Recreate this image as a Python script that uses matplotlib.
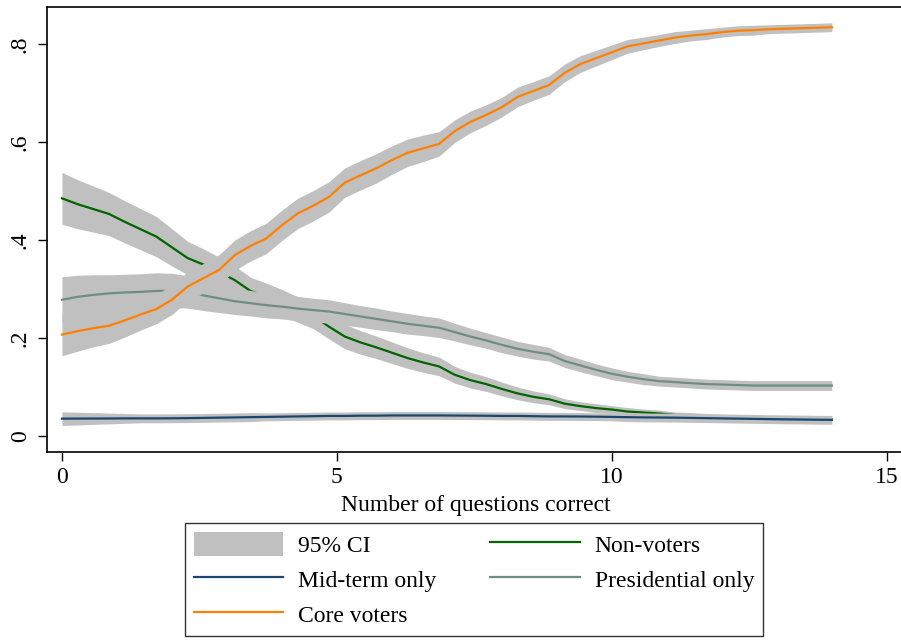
import numpy as np
import matplotlib.pyplot as plt
from matplotlib.patches import Patch
from matplotlib.lines import Line2D

plt.rcParams['font.family'] = ['Liberation Serif', 'DejaVu Serif']

# Number of questions correct (evaluation grid)
x = np.linspace(0, 14, 50)

# Predicted probabilities and 95% CI half-widths
core = [0.207, 0.214, 0.220, 0.225, 0.236, 0.248, 0.259, 0.278, 0.305, 0.322,
        0.339, 0.369, 0.388, 0.403, 0.430, 0.454, 0.470, 0.488, 0.517, 0.532,
        0.546, 0.563, 0.578, 0.587, 0.596, 0.622, 0.641, 0.655, 0.671, 0.692,
        0.704, 0.716, 0.741, 0.759, 0.771, 0.783, 0.795, 0.801, 0.807, 0.813,
        0.817, 0.820, 0.824, 0.827, 0.828, 0.830, 0.831, 0.832, 0.833, 0.834]
core_ci = [0.043, 0.041, 0.038, 0.036, 0.034, 0.032, 0.030, 0.030, 0.030, 0.030,
           0.031, 0.031, 0.031, 0.031, 0.031, 0.031, 0.031, 0.031, 0.030, 0.030,
           0.030, 0.029, 0.028, 0.027, 0.025, 0.023, 0.022, 0.021, 0.020, 0.020,
           0.019, 0.019, 0.018, 0.017, 0.016, 0.015, 0.014, 0.013, 0.012, 0.012,
           0.011, 0.011, 0.010, 0.010, 0.010, 0.009, 0.009, 0.009, 0.009, 0.009]

nonvote = [0.485, 0.473, 0.463, 0.453, 0.437, 0.422, 0.407, 0.385, 0.363, 0.350,
           0.335, 0.318, 0.296, 0.285, 0.272, 0.258, 0.245, 0.223, 0.203, 0.191,
           0.181, 0.170, 0.159, 0.150, 0.142, 0.125, 0.114, 0.106, 0.096, 0.087,
           0.080, 0.075, 0.066, 0.061, 0.057, 0.054, 0.050, 0.048, 0.046, 0.043,
           0.042, 0.040, 0.039, 0.038, 0.037, 0.036, 0.036, 0.035, 0.035, 0.034]
nonvote_ci = [0.053, 0.050, 0.047, 0.044, 0.043, 0.042, 0.041, 0.038, 0.034, 0.032,
              0.030, 0.029, 0.028, 0.027, 0.027, 0.026, 0.026, 0.025, 0.025, 0.024,
              0.023, 0.022, 0.021, 0.020, 0.019, 0.017, 0.016, 0.015, 0.014, 0.013,
              0.012, 0.011, 0.010, 0.009, 0.009, 0.008, 0.008, 0.007, 0.007, 0.006,
              0.006, 0.006, 0.005, 0.005, 0.005, 0.005, 0.005, 0.005, 0.005, 0.005]

pres = [0.278, 0.284, 0.288, 0.291, 0.293, 0.294, 0.296, 0.297, 0.294, 0.287,
        0.281, 0.275, 0.271, 0.267, 0.264, 0.260, 0.257, 0.254, 0.249, 0.244,
        0.239, 0.234, 0.229, 0.225, 0.221, 0.212, 0.203, 0.195, 0.186, 0.178,
        0.172, 0.167, 0.153, 0.144, 0.135, 0.127, 0.121, 0.116, 0.112, 0.110,
        0.108, 0.106, 0.105, 0.104, 0.103, 0.103, 0.103, 0.103, 0.103, 0.103]
pres_ci = [0.047, 0.044, 0.041, 0.038, 0.037, 0.037, 0.037, 0.035, 0.033, 0.031,
           0.029, 0.027, 0.026, 0.026, 0.025, 0.025, 0.024, 0.024, 0.023, 0.022,
           0.022, 0.021, 0.021, 0.020, 0.020, 0.018, 0.017, 0.016, 0.016, 0.015,
           0.015, 0.014, 0.013, 0.013, 0.012, 0.012, 0.011, 0.011, 0.010, 0.010,
           0.010, 0.010, 0.010, 0.010, 0.010, 0.010, 0.010, 0.010, 0.010, 0.010]

midterm = [0.0355, 0.0356, 0.0357, 0.0358, 0.036, 0.036, 0.036, 0.0362, 0.0365, 0.037,
           0.0375, 0.038, 0.0385, 0.039, 0.0395, 0.040, 0.0405, 0.041, 0.041, 0.0415,
           0.0415, 0.042, 0.042, 0.042, 0.042, 0.0418, 0.0416, 0.0414, 0.041, 0.041,
           0.0405, 0.040, 0.040, 0.0398, 0.0395, 0.039, 0.0385, 0.038, 0.0378, 0.0375,
           0.037, 0.0365, 0.036, 0.0355, 0.035, 0.0345, 0.034, 0.0337, 0.0333, 0.033]
midterm_ci = [0.014, 0.013, 0.012, 0.011, 0.010, 0.009, 0.009, 0.009, 0.009, 0.009,
              0.009, 0.009, 0.009, 0.008, 0.008, 0.008, 0.008, 0.008, 0.008, 0.008,
              0.008, 0.008, 0.008, 0.008, 0.008, 0.008, 0.008, 0.008, 0.008, 0.008,
              0.008, 0.008, 0.008, 0.008, 0.008, 0.008, 0.009, 0.009, 0.009, 0.009,
              0.009, 0.009, 0.009, 0.009, 0.009, 0.009, 0.009, 0.009, 0.009, 0.009]

band = '#c0c0c0'
c_mid = '#1a476f'
c_core = '#ff8000'
c_non = '#006400'
c_pres = '#6e8e84'

fig = plt.figure(figsize=(9.01, 6.42), dpi=100)
ax = fig.add_axes([0.0518, 0.2967, 0.9526, 0.6929])

# each series in turn: CI band, then its line; later bands cover earlier lines
series = [(nonvote, nonvote_ci, c_non), (pres, pres_ci, c_pres),
          (midterm, midterm_ci, c_mid), (core, core_ci, c_core)]
for i, (m, ci, col) in enumerate(series):
    m = np.array(m)
    ci = np.array(ci)
    ax.fill_between(x, m - ci, m + ci, color=band, lw=0, zorder=2 + 2 * i)
    ax.plot(x, m, color=col, lw=1.6, zorder=3 + 2 * i)

ax.set_xlim(-0.278, 15.33)
ax.set_ylim(-0.0316, 0.876)
ax.set_xticks([0, 5, 10, 15])
ax.set_yticks([0, 0.2, 0.4, 0.6, 0.8])
ax.set_yticklabels(['0', '.2', '.4', '.6', '.8'], rotation=90, va='center')
ax.tick_params(axis='both', labelsize=17, length=6.5, width=1, pad=5, color='black')
ax.set_xlabel('Number of questions correct', fontsize=17, labelpad=5)
for s in ax.spines.values():
    s.set_linewidth(1.2)
    s.set_zorder(20)
ax.spines['right'].set_visible(False)

handles = [Patch(facecolor=band, edgecolor='none'),
           Line2D([], [], color=c_mid, lw=1.6),
           Line2D([], [], color=c_core, lw=1.6),
           Line2D([], [], color=c_non, lw=1.6),
           Line2D([], [], color=c_pres, lw=1.6)]
labels = ['95% CI', 'Mid-term only', 'Core voters', 'Non-voters', 'Presidential only']
leg = fig.legend(handles, labels, ncol=2, loc='upper center',
                 bbox_to_anchor=(0.526, 0.1854), fontsize=17, frameon=True,
                 fancybox=False, edgecolor='black', handlelength=3.8,
                 handleheight=1.19, handletextpad=0.64, columnspacing=2.25,
                 labelspacing=0.42, borderpad=0.38, borderaxespad=0)
leg.get_frame().set_linewidth(1.0)

fig.savefig('out.png', dpi=100)
